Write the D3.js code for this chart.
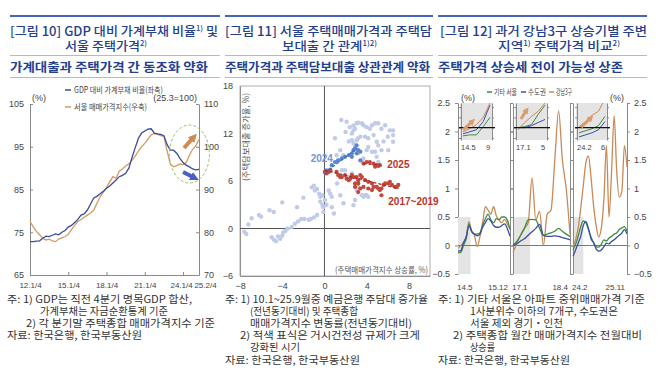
<!DOCTYPE html>
<html><head><meta charset="utf-8">
<script src="https://cdn.jsdelivr.net/npm/d3@7"></script>
<style>body{margin:0;background:#fff}svg{display:block}</style>
</head><body><svg id="c" width="670" height="392"></svg>
<script>
// ---------------- DATA ----------------
// Panel 1 (quarterly 2012Q1 .. 2025Q2)
const p1TickIdx = [0, 12, 24, 36, 48, 53];
const p1TickLabels = ["12.1/4", "15.1/4", "18.1/4", "21.1/4", "24.1/4", "25.2/4"];
const p1LeftTicks = [65, 75, 85, 95, 105];
const p1RightTicks = [70, 80, 90, 100, 110];
const p1DebtRatio = [72.8,72.8,72.9,73.0,73.6,74.1,74.0,74.3,74.6,74.4,75.0,75.4,76.2,76.6,77.3,78.0,79.0,79.3,80.2,81.6,
  83.0,83.4,84.0,84.6,85.3,85.8,86.5,87.2,88.0,88.3,88.8,90.0,92.5,94.8,97.0,98.2,98.7,99.1,99.2,98.2,
  98.0,97.9,97.6,95.5,94.2,94.2,93.5,92.3,91.3,90.7,90.3,89.8,89.6,89.7];
const p1SeoulPrice = [82.5,81.3,80.2,79.4,78.6,78.2,78.4,78.0,77.8,78.4,78.7,79.0,79.5,80.6,81.6,82.5,83.0,83.5,84.0,84.5,
  85.2,86.8,88.3,89.3,90.5,91.8,93.0,92.6,94.3,94.8,95.5,96.0,96.8,97.8,99.0,100.0,100.8,101.8,102.8,103.1,
  102.9,102.6,102.4,99.0,96.0,95.3,95.6,96.0,95.8,96.3,98.0,99.4,100.2,101.7];
const p1Legend = ["GDP 대비 가계부채 비율(좌축)", "서울 매매가격지수(우축)"];
// annotation arrows: [quarter, value]
const p1UpArrow = [[48.3, 99.7], [51.4, 102.3]];      // right-axis units
const p1DownArrow = [[48.0, 89.1], [51.7, 87.7]];     // left-axis units

// Panel 2 scatter  [x: 주택매매가격지수 상승률, y: 주담대 증가율]
const p2XTicks = [-8, -4, 0, 4, 8];
const p2YTicks = [-6, 0, 6, 12, 18];
const p2Other = [[-7.6,-0.4],[-7.4,-0.7],[-7.2,0.5],[-6.9,1.3],[-6.2,1.7],[-6.0,1.5],[-5.2,2.3],[-4.8,2.1],[-5.0,-1.1],[-4.8,-1.4],
  [-4.6,-1.6],[-4.4,-1.0],[-4.2,-1.3],[-4.0,-0.9],[-3.9,-0.5],[-3.7,-0.3],[-3.5,0.0],[-4.0,3.3],[-3.1,0.2],[-2.8,0.6],
  [-2.6,2.7],[-2.5,0.9],[-2.2,1.2],[-1.9,1.2],[-1.5,1.1],[-1.3,1.2],[-1.0,1.4],[-0.7,1.7],[-2.0,3.9],[-1.2,5.2],
  [-1.0,5.4],[-0.9,4.8],[-0.7,5.0],[-0.5,4.4],[-0.4,4.0],[-0.2,4.2],[-0.4,3.4],[-0.2,3.0],[-0.1,2.7],[0.05,3.6],
  [-0.1,2.1],[0.4,4.8],[0.55,4.4],[0.7,4.0],[0.2,3.0],[0.7,2.7],[0.9,1.9],[1.2,5.7],[1.5,6.5],[1.5,4.2],[1.8,3.2],
  [1.6,13.7],[2.1,13.5],[2.6,12.0],[2.75,12.4],[2.9,12.6],[2.75,13.0],[3.05,13.3],[3.2,13.35],[3.55,13.3],[3.7,13.05],
  [4.0,12.8],[4.3,12.6],[4.5,13.05],[4.8,13.3],[5.1,13.3],[5.4,12.6],[5.75,13.05],[6.2,12.4],[6.5,12.4],[2.6,11.15],
  [2.75,10.75],[2.9,10.3],[3.05,11.15],[3.2,11.4],[3.4,11.6],[3.85,11.6],[4.15,11.4],[4.65,11.8],[4.95,10.95],[5.1,10.5],
  [5.4,9.9],[6.05,9.9],[6.5,11.8],[6.5,10.95],[4.15,10.3],[4.0,9.9],[4.5,9.7],[4.8,9.7],[4.95,9.05],[5.1,8.4],
  [3.7,8.85],[3.55,8.6],[3.2,9.5],[1.5,9.9],[1.8,9.25],[1.3,8.6],[1.65,7.35],[1.95,7.35],[1.0,11.4],[1.15,9.25],
  [2.3,11.0],[2.0,12.2],[5.6,11.0],[6.0,11.6],[2.4,12.8],[3.2,5.25],[3.55,4.2],[3.7,4.0],[3.85,4.2],[4.0,4.2],
  [4.15,4.0],[2.9,3.6],[3.05,4.85],[2.75,2.95],[2.3,6.5],[2.6,6.95]];
const p2Y2024 = [[0.05,7.15],[0.2,7.35],[0.55,7.45],[0.7,8.0],[1.0,8.4],[1.3,8.6],[1.65,8.85],[1.95,9.05],[2.3,9.25],
  [2.6,9.5],[2.75,9.9],[2.9,10.1],[3.05,10.5],[3.2,9.9],[3.4,9.7],[2.6,9.05],[3.05,9.5],[3.4,8.6]];
const p2Y2017 = [[0.05,7.15],[0.2,6.95],[0.4,7.15],[0.55,7.35],[1.15,7.15],[1.3,6.75],[1.5,6.5],[1.65,6.5],[1.95,6.75],
  [2.1,6.3],[2.3,6.1],[2.45,6.3],[2.6,6.75],[2.75,6.5],[2.9,5.7],[3.05,6.5],[3.2,6.1],[3.2,5.7],[3.4,6.75],[3.55,6.5],
  [3.7,5.25],[3.2,4.6],[3.4,5.05],[3.85,6.1],[4.15,5.9],[4.5,5.7],[4.65,5.25],[4.95,5.25],[5.1,5.05],[5.4,5.05],
  [5.6,5.5],[5.75,5.7],[6.05,5.7],[6.2,5.9],[6.4,5.5],[6.7,5.25],[6.85,5.25],[7.0,5.5],[5.4,4.2],[5.25,4.85],
  [4.5,4.85],[4.15,5.05],[2.9,5.25]];
const p2Y2025 = [[3.7,8.2],[4.0,8.4],[4.3,8.4],[4.65,8.2],[4.95,8.0],[5.1,7.9],[5.25,8.0],[4.8,7.8]];
const p2Trend2024 = [[0.0,7.0],[3.05,10.1]];
const p2Trend2017 = [[0.05,7.35],[7.0,5.05]];
const p2Trend2025 = [[3.7,8.2],[5.25,8.0]];
const p2Labels = [{t:"2024", x:0.8, y:8.4, c:"b", a:"end"}, {t:"2025", x:5.95, y:7.6, c:"r", a:"start"},
  {t:"2017~2019", x:6.05, y:3.0, c:"r", a:"start"}];

// Panel 3 (monthly, % m/m)
const p3YTicks = [-0.5, 0, 0.5, 1, 1.5, 2, 2.5];
const p3Series = ["기타 서울", "수도권", "강남3구"];
const p3XLabels = [["14.5", "15.12"], ["17.1", "18.4"], ["24.2", "25.11"]];
const p3Gangnam = [
  [-0.05,0.0,0.05,0.15,0.42,0.25,0.18,-0.02,0.15,0.40,0.68,0.62,0.55,0.68,0.52,0.45,0.40,0.46,0.38,0.30],
  [-0.12,0.03,0.18,0.30,0.40,1.18,0.45,0.60,0.0,0.55,0.62,1.50,2.36,1.50,1.00,0.20],
  [-0.02,0.10,0.30,0.65,1.05,1.45,1.57,1.20,0.70,0.35,0.15,0.30,0.80,1.75,0.50,1.30,2.28,1.30,0.85,0.95,1.75,1.38]];
const p3Capital = [
  [-0.10,-0.09,0.05,0.15,0.35,0.25,0.20,0.17,0.20,0.32,0.40,0.47,0.43,0.35,0.32,0.32,0.35,0.38,0.30,0.16],
  [0.0,0.03,0.08,0.12,0.18,0.24,0.30,0.37,0.18,0.16,0.16,0.17,0.16,0.14,0.12,0.10],
  [-0.19,-0.08,0.04,0.16,0.35,0.42,0.30,0.12,0.05,-0.06,-0.10,-0.08,-0.02,0.04,0.03,0.07,0.10,0.14,0.18,0.22,0.28,0.20]];
const p3OtherSeoul = [
  [-0.13,-0.12,0.0,0.12,0.38,0.24,0.20,0.20,0.22,0.36,0.47,0.55,0.45,0.40,0.47,0.45,0.50,0.50,0.45,0.28],
  [0.0,0.07,0.18,0.30,0.45,0.46,0.45,0.30,0.18,0.20,0.22,0.25,0.30,0.25,0.20,0.16],
  [-0.08,0.02,0.16,0.33,0.43,0.40,0.28,0.15,0.05,-0.02,-0.03,0.02,0.10,0.08,0.13,0.16,0.20,0.22,0.28,0.31,0.33,0.25]];
const p3ShadeEnd = [4.6, 4.5, 4.0];
const p3InsetLabels = [["14.5", "9"], ["17.1", "5"], ["24.2", "6"]];
const p3InsetGangnam = [[-0.2,-0.05,0.15,0.5,1.2],[-0.1,0.25,0.55,0.8,1.2],[0.05,0.3,0.6,0.8,1.4]];
const p3InsetCapital = [[-0.3,-0.2,-0.1,0.3,1.1],[0.0,0.0,0.1,0.25,0.4],[-0.45,-0.35,-0.25,-0.1,0.3]];
const p3InsetOther = [[-0.4,-0.35,-0.35,0.05,0.5],[0.0,0.05,0.15,0.65,1.1],[-0.25,-0.15,-0.05,0.1,0.55]];
const p3InsetArrow = [[[0,-0.11],[1.43,0.32]], [[0.43,0.42],[1.29,0.86]], [[0.33,0.03],[1.83,0.47]]];

// Headers & notes text
const titleL1 = [[["[그림 10] GDP 대비 가계부채 비율",0],["1)",1],[" 및",0]],
                 [["[그림 11] 서울 주택매매가격과 주택담",0]],
                 [["[그림 12] 과거 강남3구 상승기별 주변",0]]];
const titleL2 = [[["서울 주택가격",0],["2)",1]],
                 [["보대출 간 관계",0],["1)2)",1]],
                 [["지역",0],["1)",1],[" 주택가격 비교",0],["2)",1]]];
const subTitles = ["가계대출과 주택가격 간 동조화 약화", "주택가격과 주택담보대출 상관관계 약화", "주택가격 상승세 전이 가능성 상존"];
const notes = [
  ["주: 1) GDP는 직전 4분기 명목GDP 합산,", "가계부채는 자금순환통계 기준", "2) 각 분기말 주택종합 매매가격지수 기준", "자료: 한국은행, 한국부동산원"],
  ["주: 1) 10.1~25.9월중 예금은행 주담대 증가율", "(전년동기대비) 및 주택종합", "매매가격지수 변동률(전년동기대비)", "2) 적색 표식은 거시건전성 규제가 크게", "강화된 시기", "자료: 한국은행, 한국부동산원"],
  ["주: 1) 기타 서울은 아파트 중위매매가격 기준", "1사분위수 이하의 7개구, 수도권은", "서울 제외 경기・인천", "2) 주택종합 월간 매매가격지수 전월대비", "상승률", "자료: 한국은행, 한국부동산원"]];

// ---------------- LAYOUT / STYLE ----------------
const KR = "'Noto Sans CJK KR','Noto Sans',sans-serif";
const NUM = "'Liberation Sans Narrow','Arial Narrow','Liberation Sans',sans-serif";
const NAVY = "#243f8e";
const svg = d3.select("#c");
svg.append("rect").attr("width", 670).attr("height", 392).attr("fill", "#fff");
const defs = svg.append("defs");

function rich(g, parts, x, y, size, len) {
  const t = g.append("text").attr("x", x).attr("y", y).attr("font-size", size);
  parts.forEach(([s, sup]) => {
    const ts = t.append("tspan").text(s);
    if (sup) ts.attr("font-size", size * 0.58).attr("baseline-shift", "70%");
  });
  if (len) t.attr("textLength", len).attr("lengthAdjust", "spacingAndGlyphs");
  return t;
}

// headers
const hdr = [
  {r0:10, r1:220, l1:[10,208], l2:[65,82], s:[10,198]},
  {r0:225, r1:433, l1:[225,207], l2:[282,95], s:[225,205]},
  {r0:438, r1:647, l1:[440,207], l2:[498,122], s:[438,185]}];
hdr.forEach((h, i) => {
  const g = svg.append("g").attr("font-family", KR).attr("fill", NAVY);
  g.append("line").attr("x1", h.r0).attr("x2", h.r1).attr("y1", 16).attr("y2", 16).attr("stroke", "#4764b8").attr("stroke-width", 2);
  g.append("line").attr("x1", h.r0).attr("x2", h.r1).attr("y1", 55.5).attr("y2", 55.5).attr("stroke", "#9aa7cf").attr("stroke-width", 0.8);
  g.append("line").attr("x1", h.r0).attr("x2", h.r1).attr("y1", 77.5).attr("y2", 77.5).attr("stroke", "#9aa7cf").attr("stroke-width", 0.8);
  rich(g, titleL1[i], h.l1[0], 36, 12.5, h.l1[1]).attr("font-weight", 500);
  rich(g, titleL2[i], h.l2[0], 51, 12.5, h.l2[1]).attr("font-weight", 500);
  g.append("text").attr("x", h.s[0]).attr("y", 72).attr("font-size", 12.5).attr("font-weight", 700)
    .attr("textLength", h.s[1]).attr("lengthAdjust", "spacingAndGlyphs").text(subTitles[i]);
});

// notes
const noteY = [302.5, 314.7, 326.9, 339.1, 351.3, 363.5];
const noteLayout = [
  [[7,185],[40,128],[26,189],[7,135]],
  [[225,203],[250,108],[250,162],[240,180],[250,50],[225,135]],
  [[438,207],[470,148],[470,93],[453,189],[470,25],[438,132]]];
notes.forEach((arr, i) => {
  const g = svg.append("g").attr("font-family", KR).attr("fill", "#333").attr("font-size", 10);
  arr.forEach((t, j) => {
    const [x, w] = noteLayout[i][j];
    g.append("text").attr("x", x).attr("y", noteY[j]).attr("textLength", w).attr("lengthAdjust", "spacingAndGlyphs").text(t);
  });
});

function styleAxis(g) {
  g.select(".domain").attr("stroke", "#8a8a8a");
  g.selectAll(".tick line").attr("stroke", "#8a8a8a");
  g.selectAll("text").attr("font-family", NUM).attr("font-size", 9).attr("fill", "#444");
}

// ---------------- PANEL 1 ----------------
{
  const g = svg.append("g");
  const x = d3.scaleLinear([0, 53], [30, 199]);
  const yL = d3.scaleLinear([65, 105], [275, 104]);
  const yR = d3.scaleLinear([70, 110], [275, 104]);
  g.append("g").attr("transform", "translate(30,0)")
    .call(d3.axisLeft(yL).tickValues(p1LeftTicks).tickSize(-3).tickSizeOuter(0).tickPadding(6)).call(styleAxis);
  g.append("g").attr("transform", "translate(199,0)")
    .call(d3.axisRight(yR).tickValues(p1RightTicks).tickSize(-3).tickSizeOuter(0).tickPadding(5)).call(styleAxis);
  const xa = g.append("g").attr("transform", "translate(0,275)")
    .call(d3.axisBottom(x).tickValues(p1TickIdx).tickFormat((d, i) => p1TickLabels[i]).tickSize(-3).tickSizeOuter(0).tickPadding(7))
    .call(styleAxis);
  xa.selectAll("text").attr("font-size", 8);
  xa.selectAll("text").filter((d, i) => i === 5).attr("dx", 6);
  xa.selectAll("text").filter((d, i) => i === 4).attr("dx", -2);
  const blue = "#3a4c9c", orange = "#d39a63";
  g.append("path").datum(p1SeoulPrice).attr("fill", "none").attr("stroke", orange).attr("stroke-width", 1.3)
    .attr("d", d3.line().x((d, i) => x(i)).y(d => yR(d)));
  g.append("path").datum(p1DebtRatio).attr("fill", "none").attr("stroke", blue).attr("stroke-width", 1.3)
    .attr("d", d3.line().x((d, i) => x(i)).y(d => yL(d)));
  // legend
  const lg = g.append("g").attr("font-family", KR).attr("font-size", 8.5).attr("fill", "#444");
  [[blue, 90, 89], [orange, 107, 73]].forEach(([c, y, w], i) => {
    lg.append("line").attr("x1", 65).attr("x2", 71).attr("y1", y).attr("y2", y).attr("stroke", c).attr("stroke-width", 1.5);
    lg.append("text").attr("x", 74).attr("y", y + 3).attr("textLength", w).attr("lengthAdjust", "spacingAndGlyphs").text(p1Legend[i]);
  });
  g.append("text").attr("x", 32).attr("y", 101).attr("font-family", NUM).attr("font-size", 9).attr("fill", "#444").text("(%)");
  g.append("text").attr("x", 197).attr("y", 101).attr("text-anchor", "end").attr("font-family", NUM).attr("font-size", 9).attr("fill", "#444").text("(25.3=100)");
  // highlight ellipse & arrows
  g.append("ellipse").attr("cx", x(50)).attr("cy", yL(93.3)).attr("rx", 20).attr("ry", 29)
    .attr("fill", "none").attr("stroke", "#9ac25a").attr("stroke-width", 1).attr("stroke-dasharray", "3,2");
  [["ahO", "#d08a52"], ["ahB", "#4a60c8"], ["ahI", "#dd9a6c"]].forEach(([id, c]) => {
    defs.append("marker").attr("id", id).attr("viewBox", "0 0 10 10").attr("refX", 5).attr("refY", 5)
      .attr("markerWidth", 2.2).attr("markerHeight", 2.2).attr("orient", "auto")
      .append("path").attr("d", "M0,0L10,5L0,10z").attr("fill", c);
  });
  g.append("line").attr("x1", x(p1UpArrow[0][0])).attr("y1", yR(p1UpArrow[0][1])).attr("x2", x(p1UpArrow[1][0])).attr("y2", yR(p1UpArrow[1][1]))
    .attr("stroke", "#d08a52").attr("stroke-width", 4).attr("marker-end", "url(#ahO)");
  g.append("line").attr("x1", x(p1DownArrow[0][0])).attr("y1", yL(p1DownArrow[0][1])).attr("x2", x(p1DownArrow[1][0])).attr("y2", yL(p1DownArrow[1][1]))
    .attr("stroke", "#4a60c8").attr("stroke-width", 4).attr("marker-end", "url(#ahB)");
}

// ---------------- PANEL 2 ----------------
{
  const g = svg.append("g");
  const x = d3.scaleLinear([-8, 10], [240, 430]);
  const y = d3.scaleLinear([-6, 18], [276, 86]);
  g.append("g").attr("transform", "translate(240,0)")
    .call(d3.axisLeft(y).tickValues(p2YTicks).tickSize(0).tickPadding(7)).call(styleAxis);
  g.append("g").attr("transform", "translate(0,276)")
    .call(d3.axisBottom(x).tickValues(p2XTicks).tickSize(0).tickPadding(7)).call(styleAxis);
  g.append("rect").attr("x", 240).attr("y", 86).attr("width", 190).attr("height", 190)
    .attr("fill", "none").attr("stroke", "#9a9a9a").attr("stroke-width", 0.8);
  g.append("line").attr("x1", x(0)).attr("x2", x(0)).attr("y1", 86).attr("y2", 276).attr("stroke", "#555").attr("stroke-width", 1);
  g.append("line").attr("x1", 240).attr("x2", 430).attr("y1", y(0)).attr("y2", y(0)).attr("stroke", "#555").attr("stroke-width", 1);
  const LB = "#bfcbe8", B = "#5b85cf", R = "#c4463c";
  g.append("g").selectAll("circle").data(p2Other).join("circle")
    .attr("cx", d => x(d[0])).attr("cy", d => y(d[1])).attr("r", 2.2).attr("fill", LB);
  g.append("g").selectAll("circle").data(p2Y2024).join("circle")
    .attr("cx", d => x(d[0])).attr("cy", d => y(d[1])).attr("r", 2.1).attr("fill", B);
  g.append("g").selectAll("circle").data(p2Y2017.concat(p2Y2025)).join("circle")
    .attr("cx", d => x(d[0])).attr("cy", d => y(d[1])).attr("r", 2.1).attr("fill", R);
  const ln = d3.line().x(d => x(d[0])).y(d => y(d[1]));
  g.append("path").attr("d", ln(p2Trend2024)).attr("stroke", "#3f6cc0").attr("stroke-width", 1.3).attr("stroke-dasharray", "3,2").attr("fill", "none");
  g.append("path").attr("d", ln(p2Trend2017)).attr("stroke", "#9e2e26").attr("stroke-width", 1.3).attr("stroke-dasharray", "3,2").attr("fill", "none");
  g.append("path").attr("d", ln(p2Trend2025)).attr("stroke", "#9e2e26").attr("stroke-width", 1.3).attr("stroke-dasharray", "3,2").attr("fill", "none");
  p2Labels.forEach(l => {
    g.append("text").attr("x", x(l.x)).attr("y", y(l.y)).attr("text-anchor", l.a)
      .attr("font-family", "'Liberation Sans',sans-serif").attr("font-weight", 700).attr("font-size", 10)
      .attr("fill", l.c === "b" ? "#7096d8" : "#b8352c").text(l.t);
  });
  g.append("text").attr("transform", "translate(249,137) rotate(-90)").attr("text-anchor", "middle")
    .attr("font-family", KR).attr("font-size", 8.5).attr("fill", "#555").attr("textLength", 88).attr("lengthAdjust", "spacingAndGlyphs")
    .text("(주택담보대출 증가율, %)");
  g.append("text").attr("x", 428).attr("y", 273).attr("text-anchor", "end")
    .attr("font-family", KR).attr("font-size", 8.5).attr("fill", "#555").attr("textLength", 93).attr("lengthAdjust", "spacingAndGlyphs")
    .text("(주택매매가격지수 상승률, %)");
}

// ---------------- PANEL 3 ----------------
{
  const g = svg.append("g");
  const y = d3.scaleLinear([-0.5, 2.5], [274, 103]);
  const subs = [[458, 510], [513, 570], [573, 627]];
  const insets = [[460, 493], [515, 548], [576, 608]];
  const cO = "#c98a58", cB = "#3b4ea6", cG = "#3e8c3e";
  g.append("g").attr("transform", "translate(458,0)")
    .call(d3.axisLeft(y).tickValues(p3YTicks).tickFormat(d3.format("~g")).tickSize(3).tickSizeOuter(0).tickPadding(5)).call(styleAxis);
  g.append("g").attr("transform", "translate(627,0)")
    .call(d3.axisRight(y).tickValues(p3YTicks).tickFormat(d3.format("~g")).tickSize(3).tickSizeOuter(0).tickPadding(4)).call(styleAxis);
  subs.forEach(([x0, x1], k) => {
    const n = p3Gangnam[k].length;
    const x = d3.scaleLinear([0, n - 1], [x0, x1]);
    g.append("rect").attr("x", x0).attr("y", y(0.5)).attr("width", x(p3ShadeEnd[k]) - x0).attr("height", y(-0.5) - y(0.5)).attr("fill", "#e4e4e4");
    if (k > 0) g.append("g").attr("transform", `translate(${x0},0)`)
      .call(d3.axisLeft(y).tickValues(p3YTicks).tickFormat("").tickSize(3).tickSizeOuter(0)).call(styleAxis);
    if (k < 2) g.append("g").attr("transform", `translate(${x1},0)`)
      .call(d3.axisRight(y).tickValues(p3YTicks).tickFormat("").tickSize(3).tickSizeOuter(0)).call(styleAxis);
    g.append("line").attr("x1", x0).attr("x2", x1).attr("y1", y(0)).attr("y2", y(0)).attr("stroke", "#777").attr("stroke-width", 1.2);
    const ln = d3.line().x((d, i) => x(i)).y(d => y(d)).curve(d3.curveMonotoneX);
    g.append("path").attr("d", ln(p3Gangnam[k])).attr("fill", "none").attr("stroke", cO).attr("stroke-width", 1.3);
    g.append("path").attr("d", ln(p3OtherSeoul[k])).attr("fill", "none").attr("stroke", cG).attr("stroke-width", 1.3);
    g.append("path").attr("d", ln(p3Capital[k])).attr("fill", "none").attr("stroke", cB).attr("stroke-width", 1.3);
    // x labels
    g.append("text").attr("x", x0 - 1).attr("y", 290).attr("font-family", NUM).attr("font-size", 8).attr("fill", "#444").text(p3XLabels[k][0]);
    g.append("text").attr("x", x1 - 2).attr("y", 290).attr("text-anchor", "end").attr("font-family", NUM).attr("font-size", 8).attr("fill", "#444").text(p3XLabels[k][1]);
    // inset
    const [i0, i1] = insets[k];
    const ix = d3.scaleLinear([0, 4], [i0 + 3, i1 - 3]);
    const iy = d3.scaleLinear([-0.6, 1.2], [140, 103]);
    defs.append("clipPath").attr("id", "ic" + k).append("rect").attr("x", i0).attr("y", 103).attr("width", i1 - i0).attr("height", 37);
    const ig = g.append("g");
    ig.append("rect").attr("x", i0).attr("y", 103).attr("width", i1 - i0).attr("height", 37).attr("fill", "#e4e4e4");
    ig.append("g").attr("transform", `translate(${i0 + 1},0)`)
      .call(d3.axisLeft(iy).tickValues([-0.5, 0, 0.5, 1]).tickFormat("").tickSize(2).tickSizeOuter(0)).call(styleAxis);
    ig.append("g").attr("transform", `translate(${i1 - 1},0)`)
      .call(d3.axisRight(iy).tickValues([-0.5, 0, 0.5, 1]).tickFormat("").tickSize(2).tickSizeOuter(0)).call(styleAxis);
    const il = d3.line().x((d, i) => ix(i)).y(d => iy(d));
    const cg = ig.append("g").attr("clip-path", `url(#ic${k})`);
    cg.append("path").attr("d", il(p3InsetOther[k])).attr("fill", "none").attr("stroke", cG).attr("stroke-width", 1);
    cg.append("path").attr("d", il(p3InsetCapital[k])).attr("fill", "none").attr("stroke", cB).attr("stroke-width", 1);
    cg.append("path").attr("d", il(p3InsetGangnam[k])).attr("fill", "none").attr("stroke", cO).attr("stroke-width", 1);
    ig.append("line").attr("x1", i0 - 1).attr("x2", i1 + 2).attr("y1", iy(0)).attr("y2", iy(0)).attr("stroke", "#111").attr("stroke-width", 1.2);
    const a = p3InsetArrow[k];
    ig.append("line").attr("x1", ix(a[0][0])).attr("y1", iy(a[0][1])).attr("x2", ix(a[1][0])).attr("y2", iy(a[1][1]))
      .attr("stroke", "#dd9a6c").attr("stroke-width", 3).attr("marker-end", "url(#ahI)");
    ig.append("text").attr("x", i0 + 1).attr("y", 150).attr("font-family", NUM).attr("font-size", 7.5).attr("fill", "#444").text(p3InsetLabels[k][0]);
    ig.append("text").attr("x", i1 - 5).attr("y", 150).attr("text-anchor", "middle").attr("font-family", NUM).attr("font-size", 7.5).attr("fill", "#444").text(p3InsetLabels[k][1]);
  });
  g.append("text").attr("x", 461).attr("y", 101).attr("font-family", NUM).attr("font-size", 9).attr("fill", "#444").text("(%)");
  g.append("text").attr("x", 624).attr("y", 101).attr("text-anchor", "end").attr("font-family", NUM).attr("font-size", 9).attr("fill", "#444").text("(%)");
  // legend
  const lg = g.append("g").attr("font-family", KR).attr("font-size", 8.5).attr("fill", "#444");
  [[cG, 487, 23], [cB, 521, 18], [cO, 549, 16]].forEach(([c, x0, w], i) => {
    lg.append("line").attr("x1", x0).attr("x2", x0 + 5).attr("y1", 92).attr("y2", 92).attr("stroke", c).attr("stroke-width", 1.5);
    lg.append("text").attr("x", x0 + 7).attr("y", 95).attr("textLength", w).attr("lengthAdjust", "spacingAndGlyphs").text(p3Series[i]);
  });
}
</script></body></html>
